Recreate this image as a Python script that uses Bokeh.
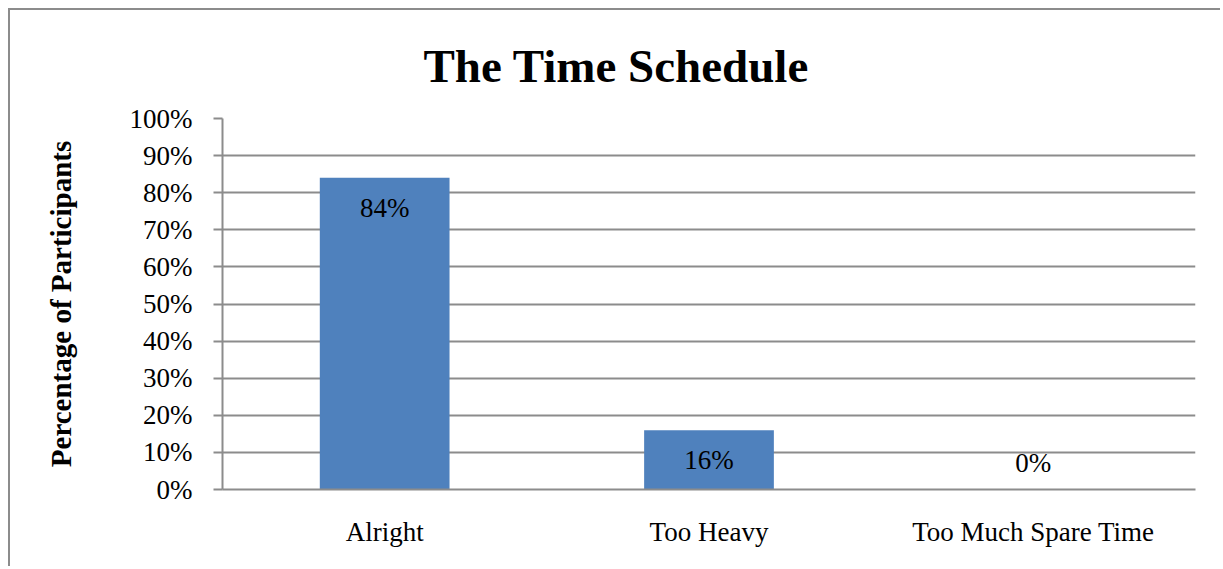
from bokeh.plotting import figure
from bokeh.models import ColumnDataSource, FactorRange, Range1d, FixedTicker, NumeralTickFormatter
from bokeh.core.properties import value
from bokeh.embed import file_html
from bokeh.resources import INLINE

title_text = "The Time Schedule"
categories = ["Alright", "Too Heavy", "Too Much Spare Time"]
percentages = [0.84, 0.16, 0.0]
label_texts = ["84%", "16%", "0%"]
y_ticks = [0.0, 0.1, 0.2, 0.3, 0.4, 0.5, 0.6, 0.7, 0.8, 0.9, 1.0]

FONT = "Liberation Serif"
GRID = "#8c8c8c"

offsets = [30 if v > 0 else -27 for v in percentages]
src = ColumnDataSource(dict(cat=categories, val=percentages, lab=label_texts, off=offsets))

p = figure(width=1212, height=558, x_range=FactorRange(*categories, range_padding=0),
           y_range=Range1d(0, 1), output_backend="svg", toolbar_location=None,
           min_border_left=212, min_border_right=27, min_border_top=108, min_border_bottom=79)
p.styles = {"border-left": "2px solid #8c8c8c", "border-top": "2px solid #8c8c8c",
            "margin-left": "8px", "margin-top": "8px"}

p.title.text = title_text
p.title.align = "left"
p.title.offset = 201
p.title.text_font = FONT
p.title.text_font_size = "47px"
p.title.text_font_style = "bold"
p.title.text_color = "black"
p.title.standoff = 53

p.vbar(x="cat", top="val", width=0.4, source=src, color="#4F81BD", line_color=None)
p.text(x="cat", y="val", text="lab", y_offset="off", source=src, text_align="center",
       text_baseline="middle", text_font=value(FONT), text_font_size="27px", text_color="black")

p.outline_line_color = None
p.xgrid.grid_line_color = None
p.ygrid.grid_line_color = GRID
p.ygrid.grid_line_width = 2

p.yaxis.ticker = FixedTicker(ticks=y_ticks)
p.yaxis.formatter = NumeralTickFormatter(format="0%")
p.yaxis.axis_line_color = GRID
p.yaxis.axis_line_width = 2
p.yaxis.major_tick_line_color = GRID
p.yaxis.major_tick_line_width = 2
p.yaxis.major_tick_out = 9
p.yaxis.major_tick_in = 0
p.yaxis.minor_tick_line_color = None
p.yaxis.major_label_standoff = 21
p.yaxis.axis_label = "Percentage of Participants"
p.yaxis.axis_label_text_font = FONT
p.yaxis.axis_label_text_font_size = "29px"
p.yaxis.axis_label_text_font_style = "bold"
p.yaxis.axis_label_standoff = 50

p.xaxis.axis_line_color = GRID
p.xaxis.axis_line_width = 2
p.xaxis.major_tick_line_color = None
p.xaxis.major_tick_out = 0
p.xaxis.major_tick_in = 0
p.xaxis.major_label_standoff = 27

for ax in (p.xaxis, p.yaxis):
    ax.major_label_text_font = FONT
    ax.major_label_text_font_size = "27px"
    ax.major_label_text_color = "black"
    ax.axis_label_text_color = "black"

open("out.html", "w").write(file_html(p, INLINE))
